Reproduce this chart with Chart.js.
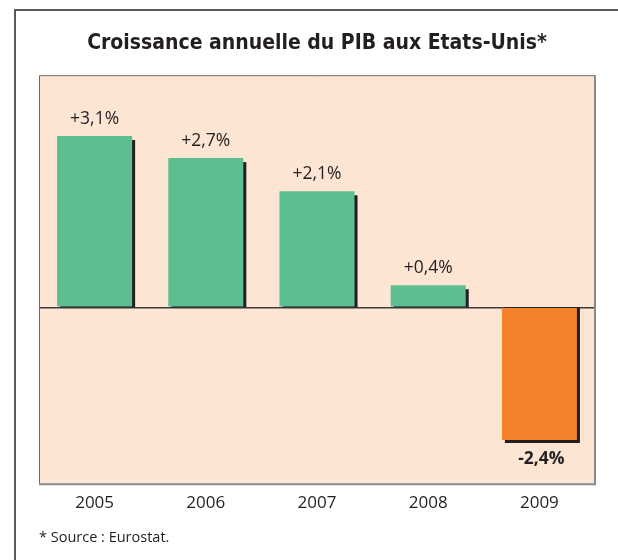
<!DOCTYPE html>
<html>
<head>
<meta charset="utf-8">
<script src="https://cdn.jsdelivr.net/npm/chart.js@4"></script>
<style>
  html, body { margin: 0; padding: 0; background: #fff; }
  canvas { display: block; }
</style>
</head>
<body>
<canvas id="gdpChart" width="618" height="560"></canvas>
<script>
// data
const years = ["2005", "2006", "2007", "2008", "2009"];
const growth = [3.1, 2.7, 2.1, 0.4, -2.4];
const growthLabels = ["+3,1%", "+2,7%", "+2,1%", "+0,4%", "-2,4%"];

const GREEN = "#5dbf91";
const ORANGE = "#f4822c";
const SHADOW = "#231f20";

// frame + plot background
const framePlugin = {
  id: "frame",
  beforeDraw(chart) {
    const { ctx, chartArea: a } = chart;
    ctx.save();
    ctx.strokeStyle = "#5a5a5a";
    ctx.lineWidth = 2;
    ctx.beginPath();
    ctx.moveTo(15, 560);
    ctx.lineTo(15, 10);
    ctx.lineTo(618, 10);
    ctx.stroke();

    ctx.fillStyle = "#fde5d4";
    ctx.fillRect(a.left, a.top, a.right - a.left, a.bottom - a.top);
    ctx.restore();
  },
  beforeDatasetsDraw(chart) {
    const { ctx, chartArea: a } = chart;
    ctx.save();
    ctx.strokeStyle = "#6e6e6e";
    ctx.lineWidth = 1;
    ctx.beginPath();
    ctx.moveTo(a.left + 0.5, a.bottom);
    ctx.lineTo(a.left + 0.5, a.top + 0.5);
    ctx.lineTo(a.right, a.top + 0.5);
    ctx.stroke();
    ctx.strokeStyle = "#8a8a8a";
    ctx.lineWidth = 2;
    ctx.beginPath();
    ctx.moveTo(a.right, a.top);
    ctx.lineTo(a.right, a.bottom);
    ctx.lineTo(a.left, a.bottom);
    ctx.stroke();

    // bar shadows, offset right/down, stopping at the zero line
    const zero = chart.scales.y.getPixelForValue(0);
    chart.getDatasetMeta(0).data.forEach((bar, i) => {
      const half = bar.width / 2;
      ctx.fillStyle = SHADOW;
      if (growth[i] >= 0) {
        ctx.fillRect(bar.x - half + 3, bar.y + 4, bar.width, zero - bar.y - 4);
      } else {
        ctx.fillRect(bar.x - half + 3, zero, bar.width, bar.y - zero + 3);
      }
    });
    ctx.restore();
  },
  afterDatasetsDraw(chart) {
    const { ctx } = chart;
    ctx.save();
    ctx.textAlign = "center";
    ctx.textBaseline = "middle";
    ctx.fillStyle = "#231f20";
    chart.getDatasetMeta(0).data.forEach((bar, i) => {
      if (growth[i] >= 0) {
        ctx.font = "17.5px 'Open Sans'";
        ctx.fillText(growthLabels[i], bar.x, bar.y - 17);
      } else {
        ctx.font = "bold 17.5px 'Open Sans'";
        ctx.fillText(growthLabels[i], bar.x + 2, bar.y + 19);
      }
    });
    ctx.restore();
  }
};

new Chart(document.getElementById("gdpChart"), {
  type: "bar",
  data: {
    labels: years,
    datasets: [{
      data: growth,
      backgroundColor: growth.map(v => v < 0 ? ORANGE : GREEN),
      borderWidth: 0,
      categoryPercentage: 0.75,
      barPercentage: 0.9
    }]
  },
  options: {
    responsive: false,
    animation: false,
    layout: { padding: { top: 16, left: 39, right: 23, bottom: 12 } },
    plugins: {
      legend: { display: false },
      tooltip: { enabled: false },
      title: {
        display: true,
        text: "Croissance annuelle du PIB aux Etats-Unis*",
        color: "#231f20",
        font: { family: "'DejaVu Sans Condensed', sans-serif", size: 21, weight: "bold" },
        padding: { top: 15, bottom: 19 }
      },
      subtitle: {
        display: true,
        position: "bottom",
        align: "start",
        text: "* Source : Eurostat.",
        color: "#231f20",
        font: { family: "'Open Sans'", size: 14.5 },
        padding: { top: 7, bottom: 1 }
      }
    },
    scales: {
      x: {
        grid: { display: false, drawTicks: false },
        border: { display: false },
        ticks: { color: "#231f20", padding: 9, font: { family: "'Open Sans'", size: 17 } }
      },
      y: {
        min: -3.2,
        max: 4.2,
        z: 1,
        border: { display: false },
        grid: {
          drawTicks: false,
          lineWidth: 1.5,
          color: c => c.tick && c.tick.value === 0 ? "#3c3a3a" : "transparent"
        },
        ticks: { display: false, stepSize: 1 },
        afterFit: s => { s.width = 0; }
      }
    }
  },
  plugins: [framePlugin]
});
</script>
</body>
</html>
